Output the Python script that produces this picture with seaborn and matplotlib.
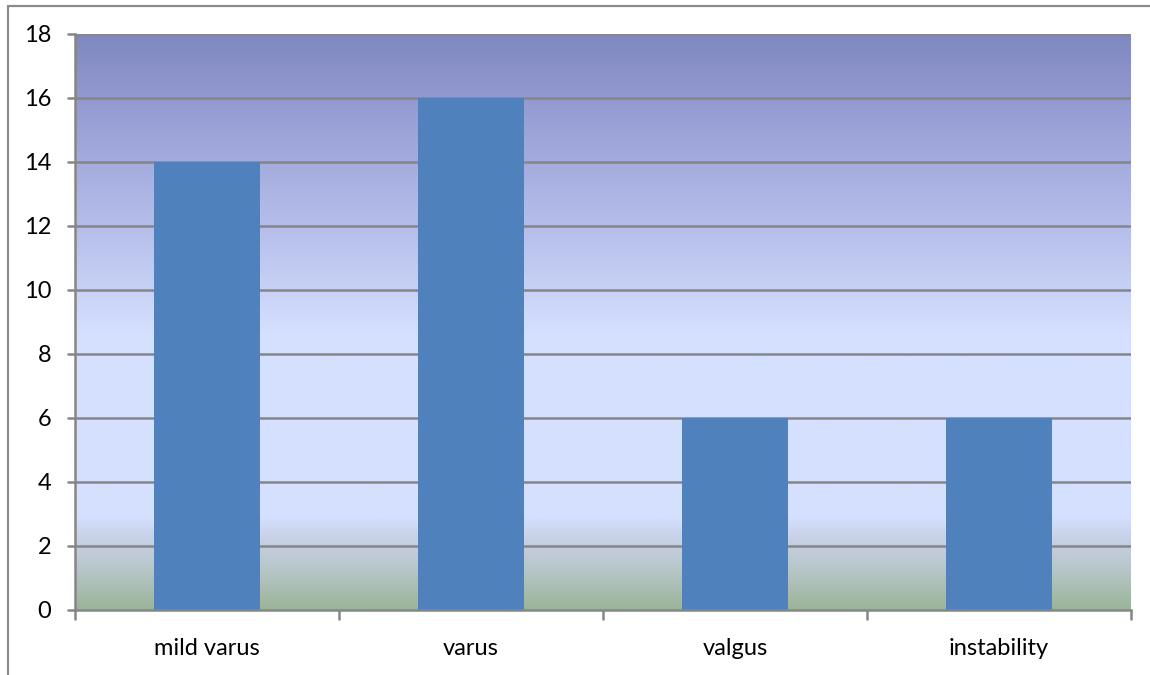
import numpy as np
import pandas as pd
import matplotlib
matplotlib.use("Agg")
import matplotlib.pyplot as plt
from matplotlib.colors import LinearSegmentedColormap
from matplotlib.lines import Line2D
import seaborn as sns

categories = ["mild varus", "varus", "valgus", "instability"]
counts = [14, 16, 6, 6]
y_ticks = [0, 2, 4, 6, 8, 10, 12, 14, 16, 18]

sns.set_theme(style="white")
plt.rcParams["font.family"] = ["Lato", "DejaVu Sans"]

GRAY = "#868686"
BAR = "#4F81BD"

fig = plt.figure(figsize=(11.5, 6.75), dpi=100)
ax = fig.add_axes([75 / 1150, 65 / 675, 1056 / 1150, 576 / 675])

# vertical background gradient: green at the base, pale blue in the middle, violet at the top
stops = [
    (0.00, "#9BB499"),
    (0.07, "#B7C6C9"),
    (0.13, "#C9D3EA"),
    (0.16, "#D5E0FF"),
    (0.48, "#D5E0FF"),
    (0.62, "#BCC6EF"),
    (0.80, "#A1A8DC"),
    (1.00, "#8088C1"),
]
cmap = LinearSegmentedColormap.from_list("bg", stops)
grad = np.linspace(0, 1, 512).reshape(-1, 1)
ax.imshow(grad, cmap=cmap, origin="lower", aspect="auto",
          extent=[-0.5, 3.5, 0, 18], zorder=0)

df = pd.DataFrame({"category": categories, "count": counts})
sns.barplot(data=df, x="category", y="count", color=BAR, width=0.4,
            saturation=1, linewidth=0, edgecolor="none", ax=ax, zorder=3)

ax.set_xlim(-0.5, 3.5)
ax.set_ylim(0, 18)
ax.set_yticks(y_ticks)
ax.set_yticklabels([str(v) for v in y_ticks])
ax.set_xlabel("")
ax.set_ylabel("")

for v in y_ticks[1:]:
    ax.axhline(v, color=GRAY, lw=1.8, zorder=1)

for s in ["top", "right"]:
    ax.spines[s].set_visible(False)
for s in ["left", "bottom"]:
    ax.spines[s].set_color(GRAY)
    ax.spines[s].set_linewidth(1.8)
    ax.spines[s].set_zorder(4)

ax.set_xticks(np.arange(-0.5, 4, 1.0), minor=True)
ax.tick_params(axis="x", which="major", length=0, pad=20, labelsize=17, labelcolor="black")
ax.tick_params(axis="x", which="minor", length=7, width=1.8, color=GRAY, direction="out", bottom=True)
ax.tick_params(axis="y", which="major", length=6, width=1.8, color=GRAY, direction="out",
               left=True, pad=11, labelsize=17, labelcolor="black")

# chart frame
fig.add_artist(Line2D([8 / 1150, 1.0], [1 - 6 / 675, 1 - 6 / 675],
                      transform=fig.transFigure, color="#8C8C8C", lw=1.6))
fig.add_artist(Line2D([8 / 1150, 8 / 1150], [0.0, 1 - 6 / 675],
                      transform=fig.transFigure, color="#8C8C8C", lw=1.6))

fig.savefig("out.png", dpi=100, facecolor="white")
